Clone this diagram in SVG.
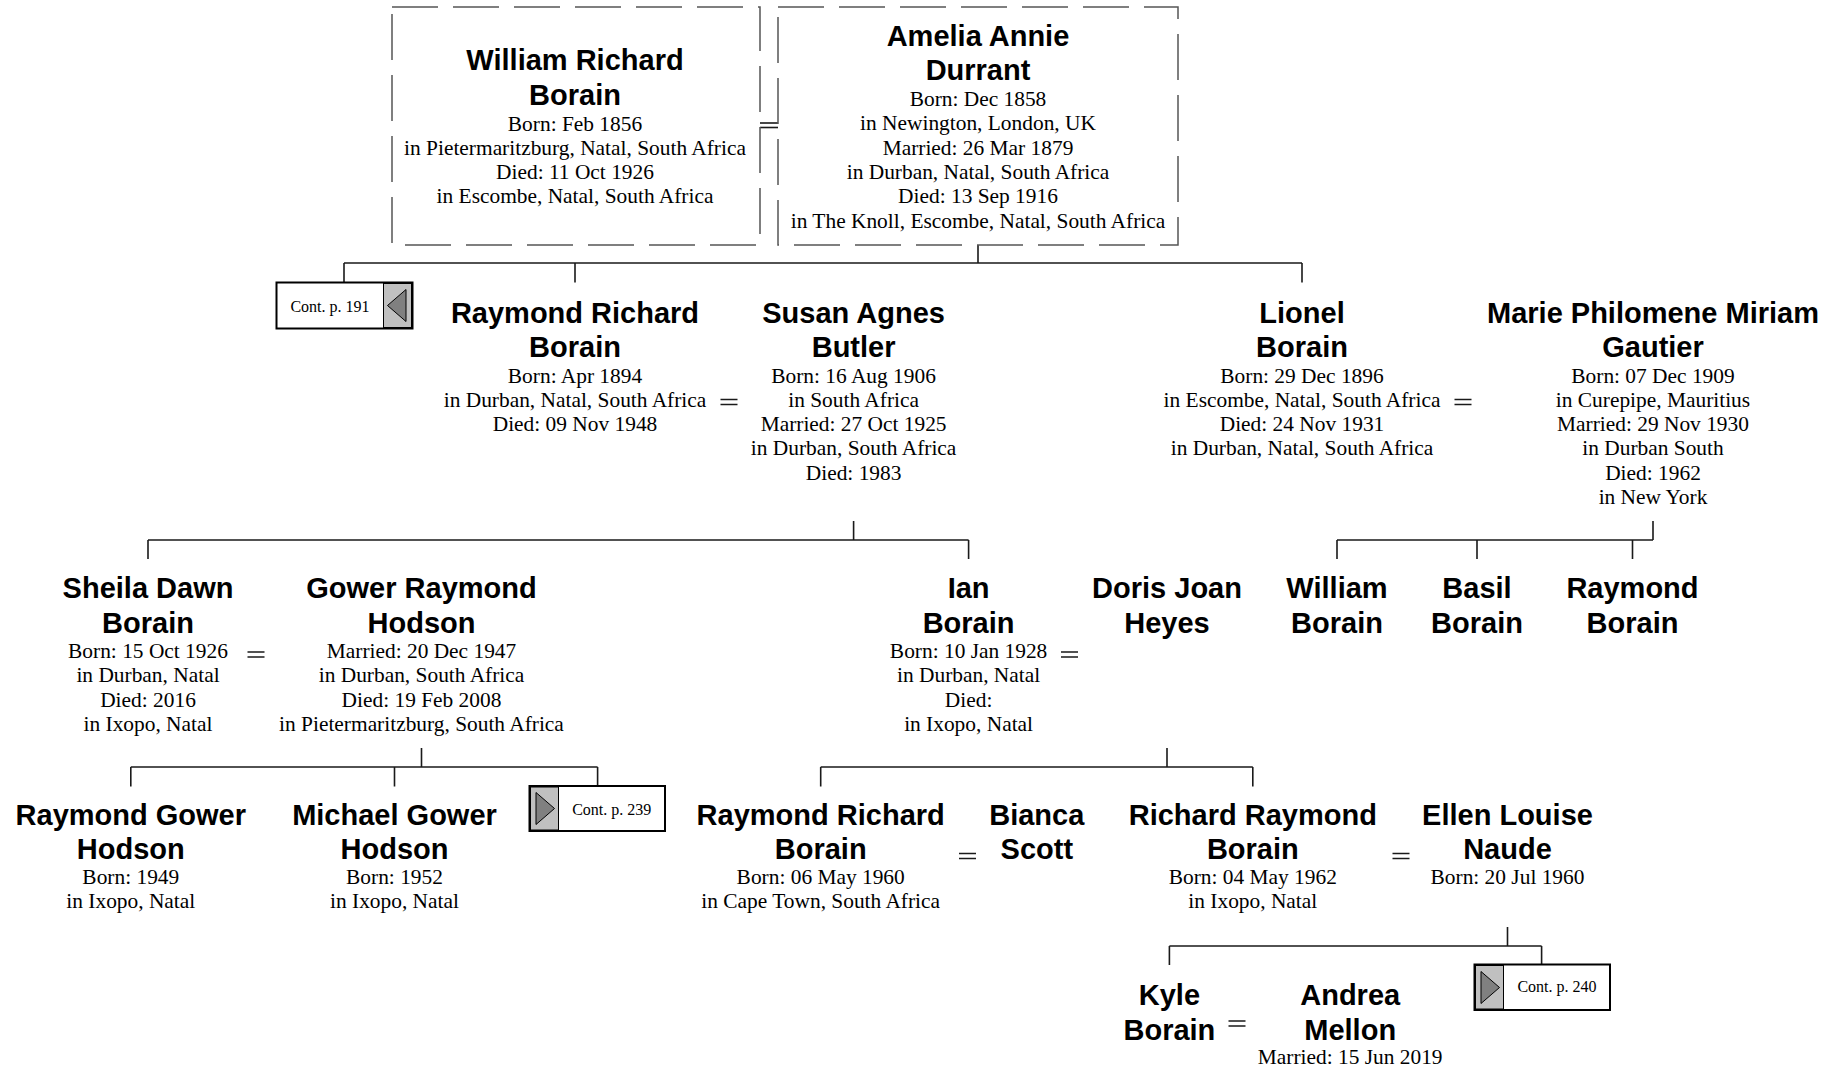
<svg xmlns="http://www.w3.org/2000/svg" width="1841" height="1068" viewBox="0 0 1841 1068">
<style>
.name{font-family:"Liberation Sans",Arial,sans-serif;font-weight:bold;font-size:29px;text-anchor:middle;fill:#000}
.det{font-family:"Liberation Serif","Times New Roman",serif;font-size:21.4px;text-anchor:middle;fill:#000}
.cont{font-family:"Liberation Serif","Times New Roman",serif;font-size:16px;text-anchor:middle;fill:#000}
.ln{stroke:#1a1a1a;stroke-width:1.6;fill:none}
.box{fill:#fff;stroke:#555;stroke-width:1.5;stroke-dasharray:46 15}
.cbox{fill:#fff;stroke:#000;stroke-width:2}
.cgrey{fill:#c0c0c0;stroke:#000;stroke-width:1}
.tri{fill:#808080;stroke:#000;stroke-width:1}
</style>
<rect width="1841" height="1068" fill="#fff"/>

<g id="connectors">
  <line class="ln" x1="760" y1="123" x2="778" y2="123"/>
  <line class="ln" x1="760" y1="127.5" x2="778" y2="127.5"/>
  <path class="ln" d="M978 245 V263 M344 263 H1302 M344 263 V282.5 M575 263 V282.5 M1302 263 V282.5"/>
  <path class="ln" d="M720.5 399.5 h17 M720.5 404.5 h17"/>
  <path class="ln" d="M853.6 521 V540 M148 540 H968.6 M148 540 V559 M968.6 540 V559"/>
  <path class="ln" d="M1454.5 399.5 h17 M1454.5 404.5 h17"/>
  <path class="ln" d="M1653 521 V540 M1337 540 H1653 M1337 540 V559 M1477 540 V559 M1632.5 540 V559"/>
  <path class="ln" d="M247.5 652 h17 M247.5 657 h17"/>
  <path class="ln" d="M421.5 748 V767 M130.8 767 H597.6 M130.8 767 V786.5 M394.5 767 V786.5 M597.6 767 V786"/>
  <path class="ln" d="M1061 652 h17 M1061 657 h17"/>
  <path class="ln" d="M1167 748 V767 M820.7 767 H1252.8 M820.7 767 V786.5 M1252.8 767 V786.5"/>
  <path class="ln" d="M959 853.5 h17 M959 858.5 h17"/>
  <path class="ln" d="M1392.5 853.5 h17 M1392.5 858.5 h17"/>
  <path class="ln" d="M1507.5 927 V946 M1169.4 946 H1541.6 M1169.4 946 V965 M1541.6 946 V964.5"/>
  <path class="ln" d="M1228.5 1021 h17 M1228.5 1026 h17"/>
</g>

<g id="william-richard-borain">
  <rect class="box" x="392" y="7" width="368" height="238"/>
  <text class="name"><tspan x="575" y="70">William Richard</tspan><tspan x="575" y="104.5">Borain</tspan></text>
  <text class="det"><tspan x="575" y="130.5">Born: Feb 1856</tspan><tspan x="575" y="154.8">in Pietermaritzburg, Natal, South Africa</tspan><tspan x="575" y="179.1">Died: 11 Oct 1926</tspan><tspan x="575" y="203.4">in Escombe, Natal, South Africa</tspan></text>
</g>

<g id="amelia-annie-durrant">
  <rect class="box" x="778" y="7" width="400" height="238"/>
  <text class="name"><tspan x="978" y="46">Amelia Annie</tspan><tspan x="978" y="80">Durrant</tspan></text>
  <text class="det"><tspan x="978" y="106">Born: Dec 1858</tspan><tspan x="978" y="130.3">in Newington, London, UK</tspan><tspan x="978" y="154.6">Married: 26 Mar 1879</tspan><tspan x="978" y="178.9">in Durban, Natal, South Africa</tspan><tspan x="978" y="203.2">Died: 13 Sep 1916</tspan><tspan x="978" y="227.5">in The Knoll, Escombe, Natal, South Africa</tspan></text>
</g>

<g id="cont-191">
  <rect class="cbox" x="276.5" y="282.5" width="136" height="46"/>
  <rect class="cgrey" x="383.5" y="283.5" width="28" height="44"/>
  <polygon class="tri" points="387.5,305.5 406,289.5 406,321.5"/>
  <text class="cont" x="330" y="311.5">Cont. p. 191</text>
</g>

<g id="raymond-richard-borain-1894">
  <text class="name"><tspan x="575" y="322.7">Raymond Richard</tspan><tspan x="575" y="357">Borain</tspan></text>
  <text class="det"><tspan x="575" y="382.5">Born: Apr 1894</tspan><tspan x="575" y="406.8">in Durban, Natal, South Africa</tspan><tspan x="575" y="431.1">Died: 09 Nov 1948</tspan></text>
</g>

<g id="susan-agnes-butler">
  <text class="name"><tspan x="853.6" y="322.7">Susan Agnes</tspan><tspan x="853.6" y="357">Butler</tspan></text>
  <text class="det"><tspan x="853.6" y="382.5">Born: 16 Aug 1906</tspan><tspan x="853.6" y="406.8">in South Africa</tspan><tspan x="853.6" y="431.1">Married: 27 Oct 1925</tspan><tspan x="853.6" y="455.4">in Durban, South Africa</tspan><tspan x="853.6" y="479.7">Died: 1983</tspan></text>
</g>

<g id="lionel-borain">
  <text class="name"><tspan x="1302" y="322.7">Lionel</tspan><tspan x="1302" y="357">Borain</tspan></text>
  <text class="det"><tspan x="1302" y="382.5">Born: 29 Dec 1896</tspan><tspan x="1302" y="406.8">in Escombe, Natal, South Africa</tspan><tspan x="1302" y="431.1">Died: 24 Nov 1931</tspan><tspan x="1302" y="455.4">in Durban, Natal, South Africa</tspan></text>
</g>

<g id="marie-philomene-miriam-gautier">
  <text class="name"><tspan x="1653" y="322.7">Marie Philomene Miriam</tspan><tspan x="1653" y="357">Gautier</tspan></text>
  <text class="det"><tspan x="1653" y="382.5">Born: 07 Dec 1909</tspan><tspan x="1653" y="406.8">in Curepipe, Mauritius</tspan><tspan x="1653" y="431.1">Married: 29 Nov 1930</tspan><tspan x="1653" y="455.4">in Durban South</tspan><tspan x="1653" y="479.7">Died: 1962</tspan><tspan x="1653" y="504">in New York</tspan></text>
</g>

<g id="sheila-dawn-borain">
  <text class="name"><tspan x="148" y="598">Sheila Dawn</tspan><tspan x="148" y="632.5">Borain</tspan></text>
  <text class="det"><tspan x="148" y="658">Born: 15 Oct 1926</tspan><tspan x="148" y="682.3">in Durban, Natal</tspan><tspan x="148" y="706.6">Died: 2016</tspan><tspan x="148" y="730.9">in Ixopo, Natal</tspan></text>
</g>

<g id="gower-raymond-hodson">
  <text class="name"><tspan x="421.5" y="598">Gower Raymond</tspan><tspan x="421.5" y="632.5">Hodson</tspan></text>
  <text class="det"><tspan x="421.5" y="658">Married: 20 Dec 1947</tspan><tspan x="421.5" y="682.3">in Durban, South Africa</tspan><tspan x="421.5" y="706.6">Died: 19 Feb 2008</tspan><tspan x="421.5" y="730.9">in Pietermaritzburg, South Africa</tspan></text>
</g>

<g id="ian-borain">
  <text class="name"><tspan x="968.6" y="598">Ian</tspan><tspan x="968.6" y="632.5">Borain</tspan></text>
  <text class="det"><tspan x="968.6" y="658">Born: 10 Jan 1928</tspan><tspan x="968.6" y="682.3">in Durban, Natal</tspan><tspan x="968.6" y="706.6">Died:</tspan><tspan x="968.6" y="730.9">in Ixopo, Natal</tspan></text>
</g>

<g id="doris-joan-heyes">
  <text class="name"><tspan x="1167" y="598">Doris Joan</tspan><tspan x="1167" y="632.5">Heyes</tspan></text>
</g>

<g id="william-borain">
  <text class="name"><tspan x="1337" y="598">William</tspan><tspan x="1337" y="632.5">Borain</tspan></text>
</g>

<g id="basil-borain">
  <text class="name"><tspan x="1477" y="598">Basil</tspan><tspan x="1477" y="632.5">Borain</tspan></text>
</g>

<g id="raymond-borain">
  <text class="name"><tspan x="1632.5" y="598">Raymond</tspan><tspan x="1632.5" y="632.5">Borain</tspan></text>
</g>

<g id="raymond-gower-hodson">
  <text class="name"><tspan x="130.8" y="824.5">Raymond Gower</tspan><tspan x="130.8" y="859">Hodson</tspan></text>
  <text class="det"><tspan x="130.8" y="884">Born: 1949</tspan><tspan x="130.8" y="908.3">in Ixopo, Natal</tspan></text>
</g>

<g id="michael-gower-hodson">
  <text class="name"><tspan x="394.5" y="824.5">Michael Gower</tspan><tspan x="394.5" y="859">Hodson</tspan></text>
  <text class="det"><tspan x="394.5" y="884">Born: 1952</tspan><tspan x="394.5" y="908.3">in Ixopo, Natal</tspan></text>
</g>

<g id="cont-239">
  <rect class="cbox" x="529.5" y="786" width="135.5" height="45"/>
  <rect class="cgrey" x="530.5" y="787" width="28" height="43"/>
  <polygon class="tri" points="536,792.5 536,824.5 554.5,808.5"/>
  <text class="cont" x="611.7" y="815">Cont. p. 239</text>
</g>

<g id="raymond-richard-borain-1960">
  <text class="name"><tspan x="820.7" y="824.5">Raymond Richard</tspan><tspan x="820.7" y="859">Borain</tspan></text>
  <text class="det"><tspan x="820.7" y="884">Born: 06 May 1960</tspan><tspan x="820.7" y="908.3">in Cape Town, South Africa</tspan></text>
</g>

<g id="bianca-scott">
  <text class="name"><tspan x="1036.8" y="824.5">Bianca</tspan><tspan x="1036.8" y="859">Scott</tspan></text>
</g>

<g id="richard-raymond-borain">
  <text class="name"><tspan x="1252.8" y="824.5">Richard Raymond</tspan><tspan x="1252.8" y="859">Borain</tspan></text>
  <text class="det"><tspan x="1252.8" y="884">Born: 04 May 1962</tspan><tspan x="1252.8" y="908.3">in Ixopo, Natal</tspan></text>
</g>

<g id="ellen-louise-naude">
  <text class="name"><tspan x="1507.5" y="824.5">Ellen Louise</tspan><tspan x="1507.5" y="859">Naude</tspan></text>
  <text class="det"><tspan x="1507.5" y="884">Born: 20 Jul 1960</tspan></text>
</g>

<g id="kyle-borain">
  <text class="name"><tspan x="1169.4" y="1005">Kyle</tspan><tspan x="1169.4" y="1039.5">Borain</tspan></text>
</g>

<g id="andrea-mellon">
  <text class="name"><tspan x="1350.2" y="1005">Andrea</tspan><tspan x="1350.2" y="1039.5">Mellon</tspan></text>
  <text class="det"><tspan x="1350.2" y="1064">Married: 15 Jun 2019</tspan></text>
</g>

<g id="cont-240">
  <rect class="cbox" x="1474.5" y="964.5" width="135.5" height="45.5"/>
  <rect class="cgrey" x="1475.5" y="965.5" width="28" height="43.5"/>
  <polygon class="tri" points="1481,971.5 1481,1003.5 1499.5,987.5"/>
  <text class="cont" x="1557" y="992">Cont. p. 240</text>
</g>
</svg>
